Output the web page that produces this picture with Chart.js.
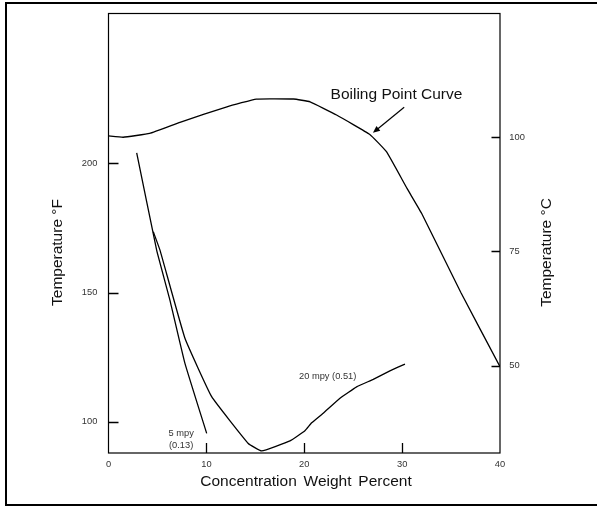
<!DOCTYPE html>
<html>
<head>
<meta charset="utf-8">
<script src="https://cdn.jsdelivr.net/npm/chart.js@4.4.1/dist/chart.umd.min.js"></script>
<style>
  html, body { margin: 0; padding: 0; background: #fff; }
  canvas { display: block; }
</style>
</head>
<body>
<canvas id="c" width="597" height="506"></canvas>
<script>
// Axis tick values
const concTicks = [0, 10, 20, 30, 40];
const tempFTicks = [100, 150, 200];
const tempCTicks = [50, 75, 100];

// Boiling point curve (weight %, °F)
const boilConc  = [0, 1.5, 4.2, 7.3, 12.1, 15.1, 18.9, 20.6, 23.3, 26.7, 28.4, 30.5, 32.0, 36.0, 40.0];
const boilTempF = [210.6, 210.1, 211.6, 215.9, 221.9, 224.9, 224.9, 223.8, 218.7, 211.2, 204.5, 190.3, 180.6, 150.0, 121.3];

// 5 mpy (0.13 mm/y) isocorrosion line
const mpy5Conc  = [2.88, 4.92, 6.28, 7.81, 10.03];
const mpy5TempF = [204.1, 166.4, 147.0, 122.6, 95.5];

// 20 mpy (0.51 mm/y) isocorrosion curve
const mpy20Conc  = [4.58, 5.26, 7.81, 10.54, 14.28, 15.65, 18.54, 20.07, 20.76, 21.94, 23.65, 25.35, 27.05, 28.75, 30.29];
const mpy20TempF = [173.5, 166.4, 132.3, 109.7, 91.6, 88.7, 92.6, 96.5, 99.6, 103.3, 109.1, 113.5, 116.4, 119.7, 122.3];

const FONT = '"Liberation Sans", Arial, Helvetica, sans-serif';

function pts(xs, ys) { return xs.map((x, i) => ({ x: x, y: ys[i] })); }

const lineStyle = {
  showLine: true, pointRadius: 0, borderColor: '#000', borderWidth: 1.3,
  fill: false, tension: 0.1
};

// Text annotations placed in data units
const notes = [
  { text: 'Boiling Point Curve', x: 29.42, y: 226.7, size: 15.5, color: '#111' },
  { text: '5 mpy',  x: 7.42, y: 95.5, size: 9.3, color: '#333' },
  { text: '(0.13)', x: 7.42, y: 91.0, size: 9.3, color: '#333' },
  { text: '20 mpy (0.51)', x: 22.39, y: 117.4, size: 9.3, color: '#333' }
];
const arrowFrom = { x: 30.21, y: 221.7 };
const arrowTo   = { x: 27.02, y: 211.8 };

const decor = {
  id: 'decor',
  beforeDraw(chart) {
    const ctx = chart.ctx;
    ctx.save();
    ctx.fillStyle = '#fff';
    ctx.fillRect(0, 0, chart.width, chart.height);
    ctx.restore();
  },
  afterDraw(chart) {
    const ctx = chart.ctx;
    const a = chart.chartArea;
    const sx = chart.scales.x, sy = chart.scales.y, sc = chart.scales.y1;
    ctx.save();

    // outer frame
    ctx.strokeStyle = '#000';
    ctx.lineWidth = 2;
    ctx.beginPath();
    ctx.moveTo(chart.width + 5, 3);
    ctx.lineTo(6, 3);
    ctx.lineTo(6, 505);
    ctx.lineTo(chart.width + 5, 505);
    ctx.stroke();

    // plot frame
    ctx.lineWidth = 1.2;
    ctx.strokeRect(a.left, a.top, a.right - a.left, a.bottom - a.top);

    // inward tick marks
    ctx.lineWidth = 1.3;
    ctx.beginPath();
    tempFTicks.forEach(v => {
      const y = Math.round(sy.getPixelForValue(v)) + 0.5;
      ctx.moveTo(a.left, y); ctx.lineTo(a.left + 10, y);
    });
    tempCTicks.forEach(v => {
      const y = Math.round(sc.getPixelForValue(v)) + 0.5;
      ctx.moveTo(a.right, y); ctx.lineTo(a.right - 8.5, y);
    });
    concTicks.slice(1, -1).forEach(v => {
      const x = Math.round(sx.getPixelForValue(v)) + 0.5;
      ctx.moveTo(x, a.bottom); ctx.lineTo(x, a.bottom - 10);
    });
    ctx.stroke();

    // annotations
    ctx.textAlign = 'center';
    ctx.textBaseline = 'middle';
    notes.forEach(n => {
      ctx.font = n.size + 'px ' + FONT;
      ctx.fillStyle = n.color;
      ctx.fillText(n.text, sx.getPixelForValue(n.x), sy.getPixelForValue(n.y));
    });

    // arrow pointing at the boiling point curve
    const x1 = sx.getPixelForValue(arrowFrom.x), y1 = sy.getPixelForValue(arrowFrom.y);
    const x2 = sx.getPixelForValue(arrowTo.x),   y2 = sy.getPixelForValue(arrowTo.y);
    const ang = Math.atan2(y2 - y1, x2 - x1);
    const hl = 7, hw = 3;
    ctx.strokeStyle = '#000';
    ctx.lineWidth = 1.2;
    ctx.beginPath();
    ctx.moveTo(x1, y1);
    ctx.lineTo(x2 - Math.cos(ang) * hl * 0.8, y2 - Math.sin(ang) * hl * 0.8);
    ctx.stroke();
    ctx.fillStyle = '#000';
    ctx.beginPath();
    ctx.moveTo(x2, y2);
    ctx.lineTo(x2 - Math.cos(ang) * hl + Math.sin(ang) * hw, y2 - Math.sin(ang) * hl - Math.cos(ang) * hw);
    ctx.lineTo(x2 - Math.cos(ang) * hl - Math.sin(ang) * hw, y2 - Math.sin(ang) * hl + Math.cos(ang) * hw);
    ctx.closePath();
    ctx.fill();

    // axis titles
    ctx.fillStyle = '#111';
    ctx.font = '15.5px ' + FONT;
    try { ctx.wordSpacing = '2.5px'; } catch (e) {}
    ctx.fillText('Concentration Weight Percent', 306, 482);
    try { ctx.wordSpacing = '0px'; } catch (e) {}
    const titleY = 252.5;
    ctx.save();
    ctx.translate(58, titleY);
    ctx.rotate(-Math.PI / 2);
    ctx.fillText('Temperature °F', 0, 0);
    ctx.restore();
    ctx.save();
    ctx.translate(547, titleY);
    ctx.rotate(-Math.PI / 2);
    ctx.fillText('Temperature °C', 0, 0);
    ctx.restore();

    ctx.restore();
  }
};

// fixed axis box sizes; label half-heights must not push the plot area
function fixBox(size) {
  return s => {
    if (s.isHorizontal()) s.height = size; else s.width = size;
    s.paddingTop = 0; s.paddingBottom = 0;
    s.paddingLeft = 0; s.paddingRight = 0;
  };
}

const tickFont = { family: FONT, size: 9.3 };

new Chart(document.getElementById('c'), {
  type: 'scatter',
  data: {
    datasets: [
      Object.assign({ label: 'Boiling Point Curve', data: pts(boilConc, boilTempF) }, lineStyle),
      Object.assign({ label: '5 mpy (0.13)', data: pts(mpy5Conc, mpy5TempF) }, lineStyle),
      Object.assign({ label: '20 mpy (0.51)', data: pts(mpy20Conc, mpy20TempF) }, lineStyle)
    ]
  },
  options: {
    responsive: false,
    animation: false,
    layout: { padding: { top: 13.5, left: 0, right: 0, bottom: 0 } },
    plugins: { legend: { display: false }, tooltip: { enabled: false } },
    scales: {
      x: {
        type: 'linear', position: 'bottom', min: 0, max: 40,
        grid: { display: false, drawTicks: false },
        border: { display: false },
        afterBuildTicks: s => { s.ticks = concTicks.map(v => ({ value: v })); },
        afterFit: fixBox(53),
        ticks: { font: tickFont, color: '#333', padding: 6, maxRotation: 0 }
      },
      y: {
        type: 'linear', position: 'left', min: 87.9, max: 258,
        grid: { display: false, drawTicks: false },
        border: { display: false },
        afterBuildTicks: s => { s.ticks = tempFTicks.map(v => ({ value: v })); },
        afterFit: fixBox(108.5),
        ticks: { font: tickFont, color: '#333', padding: 11.2 }
      },
      y1: {
        type: 'linear', position: 'right', min: 30.9, max: 127.0,
        grid: { display: false, drawTicks: false },
        border: { display: false },
        afterBuildTicks: s => { s.ticks = tempCTicks.map(v => ({ value: v })); },
        afterFit: fixBox(97),
        ticks: { font: tickFont, color: '#333', padding: 9.3 }
      }
    }
  },
  plugins: [decor]
});
</script>
</body>
</html>
